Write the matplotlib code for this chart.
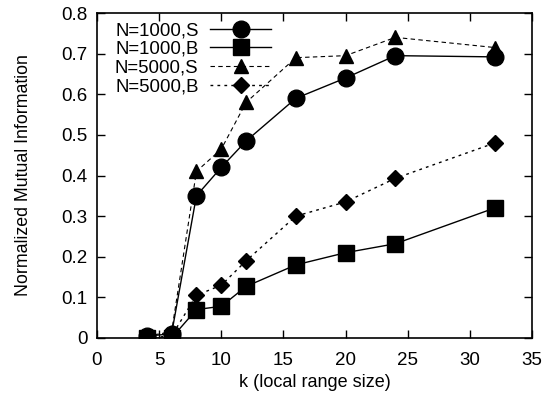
import matplotlib
matplotlib.use("Agg")
import matplotlib.pyplot as plt

plt.rcParams['font.family'] = ['Liberation Sans', 'DejaVu Sans']

k = [4, 6, 8, 10, 12, 16, 20, 24, 32]
s1000 = [0.005, 0.01, 0.35, 0.42, 0.485, 0.59, 0.64, 0.695, 0.692]
b1000 = [0.0, 0.0, 0.07, 0.078, 0.127, 0.18, 0.21, 0.232, 0.32]
s5000 = [0.005, 0.015, 0.41, 0.465, 0.58, 0.69, 0.695, 0.74, 0.715]
b5000 = [0.0, 0.005, 0.105, 0.13, 0.19, 0.30, 0.335, 0.393, 0.48]
labels = ["N=1000,S", "N=1000,B", "N=5000,S", "N=5000,B"]
xticks = [0, 5, 10, 15, 20, 25, 30, 35]
yticks = [0, 0.1, 0.2, 0.3, 0.4, 0.5, 0.6, 0.7, 0.8]
yticklabels = ["0", "0.1", "0.2", "0.3", "0.4", "0.5", "0.6", "0.7", "0.8"]

fig = plt.figure(figsize=(5.58, 3.99), dpi=100)
ax = fig.add_axes([97/558, 1 - 338/399, (532-97)/558, (338-13)/399])

ax.plot(k, s1000, '-', color='black', lw=1, marker='o', ms=12, label=labels[0])
ax.plot(k, b1000, '-', color='black', lw=1, marker='s', ms=12, label=labels[1])
ax.plot(k, s5000, '--', color='black', lw=0.8, dashes=(4, 3), marker='^', ms=10.5, label=labels[2])
ax.plot(k, b5000, ':', color='black', lw=1, dashes=(2, 3), marker='D', ms=8.2, label=labels[3])

ax.set_xlim(0, 35)
ax.set_ylim(0, 0.8)
ax.set_xticks(xticks)
ax.set_yticks(yticks)
ax.set_yticklabels(yticklabels)
ax.tick_params(direction='in', top=True, right=True, length=6, labelsize=13.5, width=1)
ax.tick_params(axis='x', pad=10)
ax.tick_params(axis='y', pad=7)
for sp in ax.spines.values():
    sp.set_linewidth(1.2)
ax.set_xlabel("k (local range size)", fontsize=13, labelpad=4)
ax.set_ylabel("Normalized Mutual Information", fontsize=12.8, labelpad=21)

leg = ax.legend(loc='upper left', frameon=False, markerfirst=False, fontsize=13.4,
                handlelength=3.3, borderaxespad=0.0, borderpad=0.0, labelspacing=0.1,
                handletextpad=0.6, bbox_to_anchor=(18/435, 1 - 9/325))

fig.savefig("out.png", dpi=100)
